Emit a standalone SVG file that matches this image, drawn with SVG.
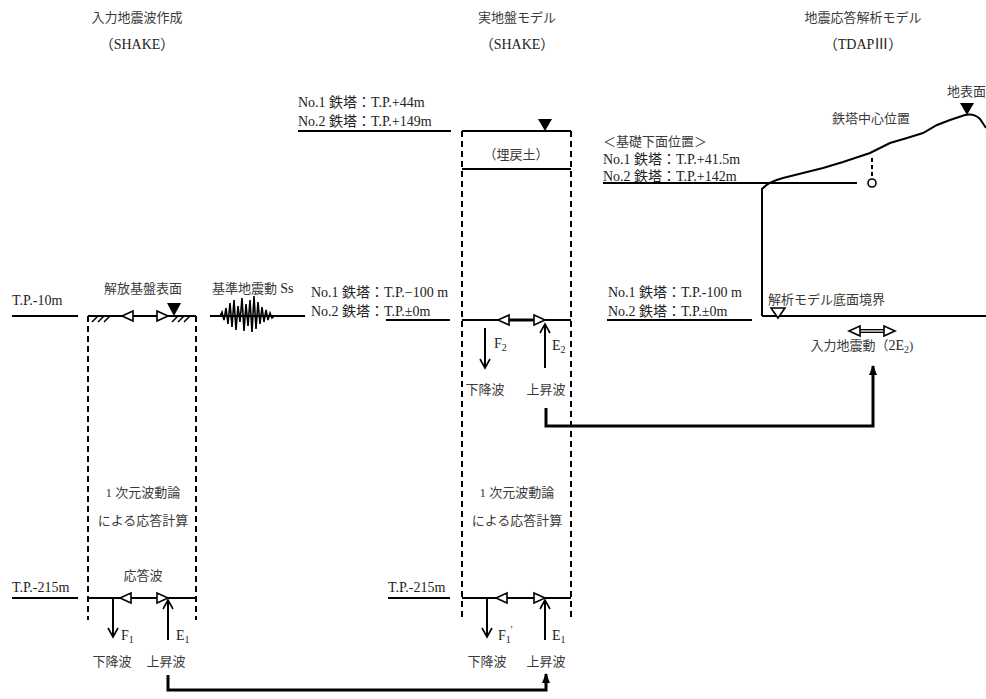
<svg xmlns="http://www.w3.org/2000/svg" width="986" height="699" viewBox="0 0 986 699">
<defs>
<style>
text{font-family:"Liberation Serif","Noto Sans CJK JP",serif;font-size:13px;fill:#3a3a3a}
.c{text-anchor:middle}
.l{font-size:14px;fill:#222}
.ln{stroke:#000;stroke-width:2;fill:none}
.dash{stroke:#000;stroke-width:2;fill:none;stroke-dasharray:6,4}
.thin{stroke:#000;stroke-width:1.5;fill:none}
.tri{fill:#fff;stroke:#000;stroke-width:1.6}
.bold{stroke:#000;stroke-width:3;fill:none}
.sub{font-size:10px}
</style>
<marker id="va" viewBox="0 0 12 12" refX="10" refY="6" markerWidth="12" markerHeight="12" markerUnits="userSpaceOnUse" orient="auto">
<path d="M1,1 L10,6 L1,11" fill="none" stroke="#000" stroke-width="1.6"/>
</marker>
<marker id="fa" viewBox="0 0 10 10" refX="9" refY="5" markerWidth="10" markerHeight="10" markerUnits="userSpaceOnUse" orient="auto">
<path d="M0,1 L10,5 L0,9 Z" fill="#000"/>
</marker>
</defs>
<rect width="986" height="699" fill="#fff"/>

<g id="titles">
<text class="c" x="137" y="22">入力地震波作成</text>
<text class="c l" x="137" y="49">（SHAKE）</text>
<text class="c" x="517" y="22">実地盤モデル</text>
<text class="c l" x="517" y="49">（SHAKE）</text>
<text class="c" x="863" y="22">地震応答解析モデル</text>
<text class="c l" x="863" y="49">（TDAPⅢ）</text>
</g>

<g id="left-model">
<text class="l" x="12" y="305">T.P.-10m</text>
<line class="ln" x1="12" y1="316" x2="78" y2="316"/>
<text class="c" x="143" y="293">解放基盤表面</text>
<line class="ln" x1="88" y1="316" x2="196" y2="316"/>
<path class="thin" d="M92,322 L98,316 M98,322 L104,316 M104,322 L110,316 M172,322 L178,316 M178,322 L184,316 M184,322 L190,316"/>
<polygon class="tri" points="122,316 133,311 133,321"/>
<polygon class="tri" points="168,316 157,311 157,321"/>
<polygon points="167,303 181,303 174,316" fill="#000"/>
<line class="dash" x1="88" y1="316" x2="88" y2="620"/>
<line class="dash" x1="196" y1="316" x2="196" y2="620"/>
<text class="c" x="143" y="497">1 次元波動論</text>
<text class="c" x="143" y="525">による応答計算</text>
<text class="c" x="143" y="580">応答波</text>
<text class="l" x="12" y="592">T.P.-215m</text>
<line class="ln" x1="12" y1="598" x2="78" y2="598"/>
<line class="ln" x1="88" y1="598" x2="196" y2="598"/>
<polygon class="tri" points="120,598 131,593 131,603"/>
<polygon class="tri" points="168,598 157,593 157,603"/>
<line class="ln" x1="113" y1="598" x2="113" y2="637" marker-end="url(#va)"/>
<text class="l" x="121" y="640">F<tspan class="sub" dy="3">1</tspan></text>
<line class="ln" x1="168" y1="640" x2="168" y2="600" marker-end="url(#va)"/>
<text class="l" x="176" y="640">E<tspan class="sub" dy="3">1</tspan></text>
<text class="c" x="112" y="666">下降波</text>
<text class="c" x="166" y="666">上昇波</text>
</g>

<g id="input-wave">
<text x="212" y="293">基準地震動 <tspan class="l">Ss</tspan></text>
<line class="ln" x1="210" y1="316" x2="305" y2="316"/>
<polyline fill="none" stroke="#000" stroke-width="1.6" points="220,316 222,312 224,320 226,308 228,324 230,303 232,327 234,300 236,330 238,306 240,322 242,298 244,331 246,304 248,326 250,300 252,332 254,296 256,329 258,302 260,324 262,307 264,322 266,310 268,320 270,313 272,318 274,316"/>
</g>

<g id="mid-model">
<text class="l" x="298" y="107">No.1 鉄塔：T.P.+44m</text>
<text class="l" x="298" y="126">No.2 鉄塔：T.P.+149m</text>
<line class="ln" x1="298" y1="131" x2="451" y2="131"/>
<line class="ln" x1="462" y1="131" x2="571" y2="131"/>
<polygon points="538,119 552,119 545,131" fill="#000"/>
<text class="c" x="516" y="159">（埋戻土）</text>
<line class="ln" x1="462" y1="169" x2="571" y2="169"/>
<line class="dash" x1="462" y1="131" x2="462" y2="620"/>
<line class="dash" x1="571" y1="131" x2="571" y2="620"/>
<text class="l" x="311" y="297">No.1 鉄塔：T.P.−100 m</text>
<text class="l" x="311" y="316">No.2 鉄塔：T.P.±0m</text>
<line class="ln" x1="386" y1="320" x2="450" y2="320"/>
<line class="ln" x1="462" y1="320" x2="571" y2="320"/>
<line stroke="#000" stroke-width="3" x1="505" y1="320" x2="538" y2="320"/>
<polygon class="tri" points="498,320 509,315 509,325"/>
<polygon class="tri" points="545,320 534,315 534,325"/>
<line class="ln" x1="485" y1="328" x2="485" y2="368" marker-end="url(#va)"/>
<text class="l" x="494" y="348">F<tspan class="sub" dy="3">2</tspan></text>
<line class="ln" x1="545" y1="368" x2="545" y2="324" marker-end="url(#va)"/>
<text class="l" x="552" y="350">E<tspan class="sub" dy="3">2</tspan></text>
<text class="c" x="485" y="394">下降波</text>
<text class="c" x="546" y="394">上昇波</text>
<text class="c" x="517" y="497">1 次元波動論</text>
<text class="c" x="517" y="525">による応答計算</text>
<text class="l" x="388" y="592">T.P.-215m</text>
<line class="ln" x1="388" y1="598" x2="450" y2="598"/>
<line class="ln" x1="462" y1="598" x2="571" y2="598"/>
<polygon class="tri" points="496,598 507,593 507,603"/>
<polygon class="tri" points="545,598 534,593 534,603"/>
<line class="ln" x1="487" y1="598" x2="487" y2="637" marker-end="url(#va)"/>
<text class="l" x="498" y="640">F<tspan class="sub" dy="3">1</tspan><tspan class="sub" dy="-10">'</tspan></text>
<line class="ln" x1="545" y1="640" x2="545" y2="600" marker-end="url(#va)"/>
<text class="l" x="552" y="640">E<tspan class="sub" dy="3">1</tspan></text>
<text class="c" x="487" y="666">下降波</text>
<text class="c" x="546" y="666">上昇波</text>
</g>

<g id="right-model">
<text x="947" y="96">地表面</text>
<polygon points="960,103 974,103 967,115" fill="#000"/>
<text class="c" x="871" y="123">鉄塔中心位置</text>
<line x1="872" y1="158" x2="872" y2="177" stroke="#000" stroke-width="2" stroke-dasharray="4,3"/>
<circle cx="872" cy="183" r="4" fill="#fff" stroke="#000" stroke-width="1.6"/>
<text x="603" y="146">＜基礎下面位置＞</text>
<text class="l" x="603" y="164">No.1 鉄塔：T.P.+41.5m</text>
<text class="l" x="603" y="181">No.2 鉄塔：T.P.+142m</text>
<line class="ln" x1="603" y1="183" x2="857" y2="183"/>
<path class="ln" d="M762,316 V189 Q768,182 783,178 L803,173 L823,168 L843,162 L870,153 L890,143 L907,138 L923,133 L937,125 L950,120 L965,115 Q974,113 980,119 L986,128"/>
<line class="ln" x1="762" y1="316" x2="986" y2="316"/>
<text class="l" x="608" y="297">No.1 鉄塔：T.P.-100 m</text>
<text class="l" x="608" y="316">No.2 鉄塔：T.P.±0m</text>
<line class="ln" x1="607" y1="320" x2="752" y2="320"/>
<text x="768" y="304">解析モデル底面境界</text>
<polygon class="tri" points="771,308 785,308 778,318"/>
<line stroke="#000" stroke-width="4" x1="856" y1="331" x2="888" y2="331"/>
<line stroke="#fff" stroke-width="1.3" x1="858" y1="331" x2="886" y2="331"/>
<polygon class="tri" points="849,331 860,326 860,336"/>
<polygon class="tri" points="895,331 884,326 884,336"/>
<text class="c" x="862" y="350">入力地震動（<tspan class="l">2E</tspan><tspan class="sub" dy="3">2</tspan><tspan dy="-3">)</tspan></text>
</g>

<g id="connectors">
<path class="bold" d="M168,675 V690 H546 V674" marker-end="url(#fa)"/>
<path class="bold" d="M546,408 V426 H873 V366" marker-end="url(#fa)"/>
</g>
</svg>
